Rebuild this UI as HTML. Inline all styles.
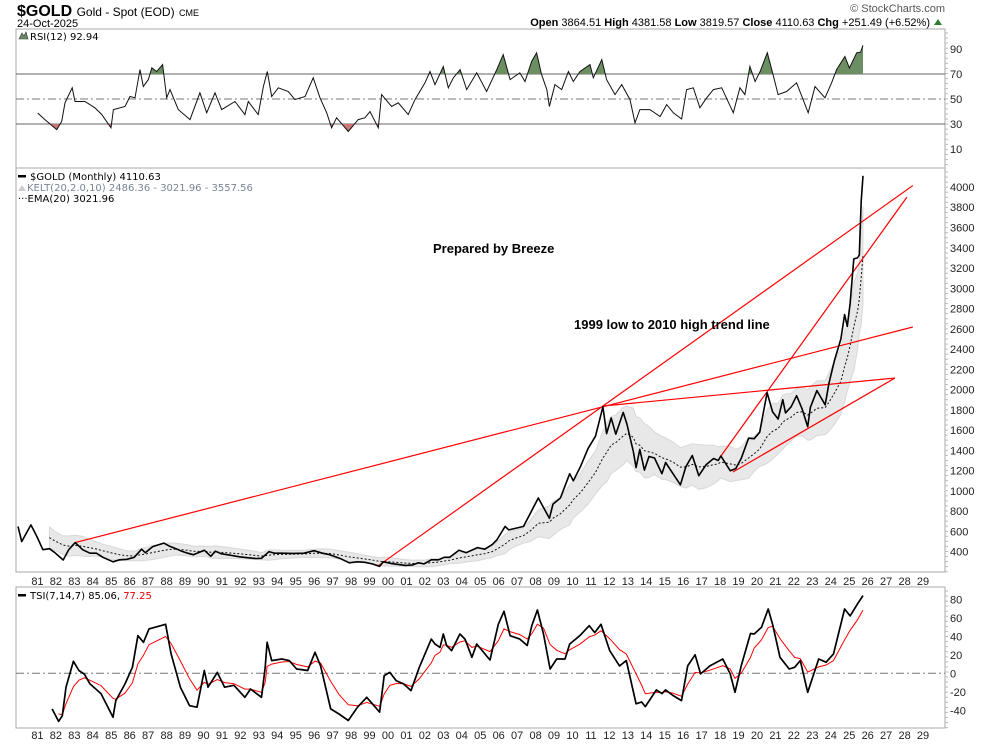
<!DOCTYPE html>
<html><head><meta charset="utf-8"><style>
body{margin:0;background:#fff;}
svg{display:block;font-family:"Liberation Sans",Arial,sans-serif;}
.lg{font-family:"DejaVu Sans",sans-serif;font-size:10px;}
.ax{font-size:11px;fill:#222;}
</style></head><body>
<svg id="chart" width="990" height="744" viewBox="0 0 990 744">
<defs>
<clipPath id="above70"><rect x="16" y="29" width="929" height="45"/></clipPath>
<clipPath id="below30"><rect x="16" y="124" width="929" height="44"/></clipPath>
<clipPath id="mainclip"><rect x="16" y="168" width="929" height="404"/></clipPath>
</defs>
<text x="17" y="16" font-size="16" font-weight="bold">$GOLD <tspan font-size="12" font-weight="normal">Gold - Spot (EOD)</tspan> <tspan font-size="9" font-weight="normal">CME</tspan></text>
<text x="17" y="27" font-size="11">24-Oct-2025</text>
<text x="945" y="12" font-size="11" fill="#555" text-anchor="end">© StockCharts.com</text>
<text x="930" y="26" font-size="11" text-anchor="end"><tspan font-weight="bold">Open</tspan> 3864.51  <tspan font-weight="bold">High</tspan> 4381.58  <tspan font-weight="bold">Low</tspan> 3819.57  <tspan font-weight="bold">Close</tspan> 4110.63  <tspan font-weight="bold">Chg</tspan> +251.49 (+6.52%)</text>
<path d="M934 25 L938 19 L942 25 Z" fill="#2e7d32"/>
<g id="panels"></g>
<g id="marks"></g>
<text x="433" y="253" font-size="13" font-weight="bold">Prepared by Breeze</text>
<text x="574" y="329" font-size="13" font-weight="bold">1999 low to 2010 high trend line</text>
<g class="lg">
<path d="M19 39 L22 33 L24 36 L26 32 L28 39 Z" fill="#6b8f62" stroke="#333" stroke-width="0.6"/>
<text x="30" y="40">RSI(12) 92.94</text>
<rect x="18" y="175" width="8" height="2.5" fill="#000"/>
<text x="30" y="180">$GOLD (Monthly) 4110.63</text>
<path d="M18 191 L22 185 L26 191 Z" fill="#ccc"/>
<text x="27" y="191" fill="#7a8595">KELT(20,2.0,10) 2486.36 - 3021.96 - 3557.56</text>
<text x="18" y="202">···EMA(20) 3021.96</text>
<rect x="18" y="594" width="8" height="2.5" fill="#000"/>
<text x="30" y="599">TSI(7,14,7) 85.06, <tspan fill="#e00">77.25</tspan></text>
</g>
</svg>
<script>
const priceDates=[1980.0,1980.2,1980.7,1981.0,1981.35,1981.7,1982.0,1982.45,1982.75,1983.1,1983.5,1983.9,1984.25,1984.6,1985.15,1985.5,1985.9,1986.3,1986.7,1986.9,1987.3,1987.9,1988.2,1988.5,1988.8,1989.2,1989.5,1989.9,1990.1,1990.45,1990.7,1991.0,1991.5,1992.0,1992.5,1992.9,1993.2,1993.6,1993.9,1994.3,1994.9,1995.5,1996.05,1996.5,1996.9,1997.2,1997.5,1997.95,1998.4,1998.8,1999.2,1999.6,1999.8,2000.2,2000.6,2001.0,2001.4,2001.7,2002.0,2002.4,2002.8,2003.1,2003.4,2003.9,2004.3,2004.9,2005.3,2005.7,2005.95,2006.4,2006.6,2006.95,2007.4,2007.8,2008.2,2008.8,2009.0,2009.4,2009.9,2010.1,2010.5,2010.9,2011.3,2011.7,2011.9,2012.15,2012.4,2012.8,2013.0,2013.35,2013.5,2013.7,2013.95,2014.2,2014.5,2014.9,2015.1,2015.5,2015.9,2016.2,2016.55,2016.9,2017.3,2017.7,2017.95,2018.1,2018.6,2018.9,2019.2,2019.6,2019.9,2020.2,2020.6,2020.9,2021.2,2021.45,2021.6,2021.9,2022.2,2022.5,2022.8,2022.95,2023.3,2023.75,2023.95,2024.25,2024.6,2024.8,2024.95,2025.1,2025.3,2025.5,2025.6,2025.7,2025.8];
const priceValues=[650,500,665,560,420,430,390,318,420,490,420,385,385,345,300,320,325,345,425,390,450,485,455,435,410,385,370,400,415,355,405,380,365,350,340,333,335,400,385,385,383,385,410,385,370,350,330,290,300,295,280,255,300,285,275,265,270,290,280,320,320,345,345,415,390,440,425,470,515,650,615,630,650,790,930,730,870,930,1170,1100,1245,1420,1540,1830,1565,1720,1560,1775,1660,1390,1230,1410,1205,1340,1325,1170,1280,1170,1060,1240,1350,1150,1260,1320,1300,1345,1200,1220,1320,1520,1515,1580,1970,1780,1710,1900,1770,1830,1940,1810,1634,1825,1990,1850,2060,2285,2500,2740,2625,2850,3290,3300,3330,3860,4110];
const rsiDates=[1981.07,1981.46,1982.1,1982.37,1982.55,1982.94,1983.09,1983.63,1984.17,1984.54,1985.04,1985.17,1985.8,1986.07,1986.34,1986.61,1986.79,1987.06,1987.25,1987.52,1987.84,1988.06,1988.24,1988.69,1989.32,1989.86,1990.23,1990.68,1991.04,1991.76,1992.3,1992.48,1993.02,1993.3,1993.51,1993.75,1994.11,1994.65,1995.01,1995.56,1996.0,1996.37,1996.73,1997.0,1997.27,1997.9,1998.44,1998.8,1999.08,1999.53,1999.71,2000.25,2000.61,2001.15,2001.52,2002.06,2002.33,2002.6,2003.05,2003.32,2003.6,2003.96,2004.32,2004.86,2005.4,2005.95,2006.3,2006.67,2007.2,2007.48,2007.84,2008.11,2008.38,2008.66,2008.8,2009.1,2009.47,2009.83,2010.1,2010.46,2011.0,2011.18,2011.64,2011.9,2012.36,2012.72,2013.17,2013.44,2013.71,2014.25,2014.8,2015.16,2015.52,2015.97,2016.24,2016.6,2016.96,2017.33,2017.69,2018.14,2018.77,2019.13,2019.4,2019.67,2019.95,2020.22,2020.61,2020.9,2021.2,2021.66,2022.2,2022.83,2023.2,2023.74,2024.1,2024.37,2024.82,2025.06,2025.46,2025.67,2025.8];
const rsiValues=[38.8,33.5,25.5,32,47,59,48,48,43,37.5,27,41.5,44,52,51,73.5,60,65.5,75,72,77.5,51,57.5,41.5,33.5,55,39,55,41.5,48,37.5,48,37.5,60,72,52,59,56,49.5,52,67,51,39,27,35,24,33.5,35,40,27,53.5,44,47,37.5,49.5,63,72,61.5,76,59,67,73.5,57.5,71,56,73.5,85.5,65.5,71,64,80,87,69.5,57.5,44,61.5,57.5,72,64,72,77.5,67,81.5,65.5,53.5,61.5,49.5,31,41.5,41.5,36,45.5,39,34,57.5,59,43,51,57.5,59,39,59,53.5,76,64,72,87,71,53.5,56,63,39,60,51,63,73.5,84,74.8,87,87.5,93];
const tsiDates=[1981.85,1982.2,1982.4,1982.6,1983.0,1983.3,1983.6,1983.9,1984.5,1985.15,1985.3,1985.8,1986.2,1986.5,1986.8,1987.1,1988.0,1988.3,1988.8,1989.3,1989.7,1990.1,1990.3,1990.8,1991.2,1991.7,1992.3,1992.6,1993.2,1993.4,1993.5,1993.75,1994.3,1994.7,1995.1,1995.7,1996.1,1996.4,1996.95,1997.4,1997.9,1998.4,1998.9,1999.6,1999.85,2000.15,2000.5,2000.9,2001.3,2001.75,2002.4,2002.6,2002.87,2003.05,2003.23,2003.5,2003.95,2004.23,2004.6,2004.86,2005.58,2006.03,2006.34,2006.67,2007.2,2007.6,2007.85,2008.15,2008.48,2008.84,2009.2,2009.65,2009.9,2010.45,2010.96,2011.26,2011.6,2012.07,2012.6,2012.97,2013.5,2013.8,2014.0,2014.6,2014.9,2015.1,2015.5,2015.96,2016.3,2016.7,2017.0,2017.5,2018.2,2018.6,2018.86,2019.2,2019.7,2019.9,2020.3,2020.66,2020.9,2021.3,2021.8,2022.1,2022.4,2022.8,2023.4,2023.8,2024.2,2024.8,2025.1,2025.5,2025.8];
const tsiValues=[-38.5,-52,-46,-15,13,3,-1,-11.5,-22,-47.5,-29.5,-11.5,6.5,40.7,33.5,48,53,21,-15,-35,-36.7,3,-15,1,-15,-13,-26,-17,-26,6.5,33.5,13.7,15.5,13.7,4.7,3,22.7,8,-38.5,-44,-51,-36.7,-26,-42,-2.5,1,-8,-11.5,-18.7,6.5,37,31.7,28,42.5,30,24.5,42.5,37,17.3,31.7,14.4,53,67,40.7,37,30,51.5,68.4,42.5,4.7,15.5,15.5,31.7,40.7,51.5,44,53,24.5,8,13.7,-33,-31,-36,-18,-22,-18,-24,-29.5,8,20,-0.7,8,15.5,-0.7,-20.5,8,43,42.5,49.7,69.5,53,17.3,4.7,6.5,13.7,-20.5,15.5,12,21,69.5,62,75,84];
const mainTicks=[400,600,800,1000,1200,1400,1600,1800,2000,2200,2400,2600,2800,3000,3200,3400,3600,3800,4000];
const rsiTicks=[90,70,50,30,10];
const tsiTicks=[80,60,40,20,0,-20,-40];
const yearLabels=["81","82","83","84","85","86","87","88","89","90","91","92","93","94","95","96","97","98","99","00","01","02","03","04","05","06","07","08","09","10","11","12","13","14","15","16","17","18","19","20","21","22","23","24","25","26","27","28","29"];
const trendStartDates=[1983.1,1999.51,2011.7,2018.05,2018.75];
const trendStartPrices=[490,259,1838,1332,1187];
const trendEndDates=[2028.5,2028.5,2027.53,2028.18,2027.53];
const trendEndPrices=[2618,4014,2114,3900,2114];

const NS="http://www.w3.org/2000/svg";
function xt(t){return 387+(t-2000)*18.45;}
function ym(v){return 551.7-(v-400)*0.10131;}
function yr(v){return 99-(v-50)*1.25;}
function yts(v){return 673.3-v*0.925;}
const marks=document.getElementById('marks');
const panels=document.getElementById('panels');
function mk(tag,attrs,parent){const e=document.createElementNS(NS,tag);for(const k in attrs)e.setAttribute(k,attrs[k]);(parent||marks).appendChild(e);return e;}
function pts(ds,vs,yf){return ds.map((d,i)=>xt(d).toFixed(1)+','+yf(vs[i]).toFixed(1)).join(' ');}

const frames=[[29,168,'rsi-panel'],[168,572,'price-panel'],[587,728,'tsi-panel']];
frames.forEach(f=>{
 const r=mk('rect',{x:16,y:f[0],width:929,height:f[1]-f[0],fill:'none',stroke:'#aaa','stroke-width':1},panels);
 
 
 for(let y=f[0]+4;y<f[1];y+=5.06){mk('line',{x1:945,x2:948,y1:y,y2:y,stroke:'#bbb'},panels);}
});
mainTicks.forEach(v=>{const t=mk('text',{x:950,y:ym(v)+4,class:'ax'});t.textContent=v;
 
 });
rsiTicks.forEach(v=>{const t=mk('text',{x:950,y:yr(v)+4,class:'ax'});t.textContent=v;
 
 });
tsiTicks.forEach(v=>{const t=mk('text',{x:950,y:yts(v)+4,class:'ax'});t.textContent=v;
 
 });
yearLabels.forEach((l,i)=>{
 const yy=1981+i;
 [585,739].forEach(y=>{const t=mk('text',{x:xt(yy)+1,y:y,class:'ax','text-anchor':'middle'});t.textContent=l;
 
 });
});
[70,30].forEach(v=>mk('line',{x1:16,x2:945,y1:yr(v),y2:yr(v),stroke:'#666','stroke-width':1}));
mk('line',{x1:16,x2:945,y1:yr(50),y2:yr(50),stroke:'#777','stroke-dasharray':'8,3,2,3'});
const rp=pts(rsiDates,rsiValues,yr);
const xa=xt(rsiDates[0]),xb=xt(rsiDates[rsiDates.length-1]);
const f1=mk('polygon',{points:xa+','+yr(70)+' '+rp+' '+xb+','+yr(70),fill:'#6b8f62','clip-path':'url(#above70)'});


const f2=mk('polygon',{points:xa+','+yr(30)+' '+rp+' '+xb+','+yr(30),fill:'#c77','clip-path':'url(#below30)'});


const rl=mk('polyline',{points:rp,fill:'none',stroke:'#111','stroke-width':1});



let ema=[],up=[],lo=[],kd=[];let e=null,atr=null;
for(let i=0;i<priceValues.length;i++){
 const p=priceValues[i];
 if(e===null){e=p;atr=p*0.04;}else{e=e+0.22*(p-e);atr=atr+0.3*(Math.abs(p-priceValues[i-1])*0.45+p*0.035-atr);}
 if(priceDates[i]>=1981.6){kd.push(priceDates[i]);ema.push(e);up.push(e+2*atr);lo.push(e-2*atr);}
}
const band=mk('polygon',{points:pts(kd,up,ym)+' '+pts(kd.slice().reverse(),lo.slice().reverse(),ym),fill:'#e8e8e8',stroke:'#d8d8dc','stroke-width':1,'clip-path':'url(#mainclip)'});


const el=mk('polyline',{points:pts(kd,ema,ym),fill:'none',stroke:'#111','stroke-width':1,'stroke-dasharray':'2,2'});


trendStartDates.forEach((d,i)=>{
 const l=mk('line',{x1:xt(d),y1:ym(trendStartPrices[i]),x2:xt(trendEndDates[i]),y2:ym(trendEndPrices[i]),stroke:'#f00','stroke-width':1.2});
 
 
});
const pl=mk('polyline',{points:pts(priceDates,priceValues,ym),fill:'none',stroke:'#000','stroke-width':1.6,'stroke-linejoin':'round'});



mk('line',{x1:16,x2:945,y1:yts(0),y2:yts(0),stroke:'#777','stroke-dasharray':'8,3,2,3'});
let sig=[],s=null;
tsiValues.forEach(v=>{s=(s===null)?v:s+0.4*(v-s);sig.push(s);});
const sl=mk('polyline',{points:pts(tsiDates.slice(1),sig.slice(1),yts),fill:'none',stroke:'#f00','stroke-width':1});


const tl=mk('polyline',{points:pts(tsiDates,tsiValues,yts),fill:'none',stroke:'#000','stroke-width':1.7,'stroke-linejoin':'round'});


</script>
</body></html>
